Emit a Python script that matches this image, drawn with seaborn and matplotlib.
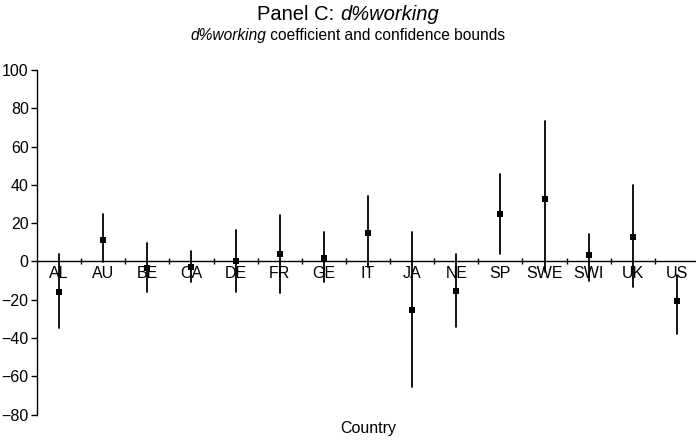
import numpy as np
import pandas as pd
import matplotlib
matplotlib.use("Agg")
import matplotlib.pyplot as plt
import seaborn as sns

countries = ["AL", "AU", "BE", "CA", "DE", "FR", "GE", "IT", "JA", "NE",
             "SP", "SWE", "SWI", "UK", "US"]
coef = [-15.9, 11.4, -3.3, -2.8, 0.4, 4.0, 1.9, 15.0, -25.3, -15.4,
        25.0, 32.8, 3.5, 12.9, -20.6]
lower = [-35.0, -0.5, -16.0, -10.8, -16.0, -16.6, -10.8, -3.0, -65.4, -34.4,
         4.0, -5.6, -10.0, -13.4, -37.9]
upper = [3.7, 24.6, 9.6, 5.2, 16.2, 24.1, 15.4, 34.2, 15.4, 3.7,
         45.9, 73.5, 14.5, 39.8, -7.0]
y_ticks = [-80, -60, -40, -20, 0, 20, 40, 60, 80, 100]

sns.set_theme(style="white")
plt.rcParams['font.family'] = ['Liberation Sans', 'DejaVu Sans']

long = pd.concat([
    pd.DataFrame({"Country": countries, "value": lower}),
    pd.DataFrame({"Country": countries, "value": coef}),
    pd.DataFrame({"Country": countries, "value": upper}),
], ignore_index=True)

W, H = 696, 440
fig = plt.figure(figsize=(W / 100, H / 100), dpi=100)
ax = fig.add_axes([37 / W, 1 - 414.5 / H, (699 - 37) / W, (414.5 - 70) / H])

sns.pointplot(data=long, x="Country", y="value", order=countries,
              estimator="median", errorbar=("pi", 100), color="black",
              marker="s", markersize=5.0, markeredgewidth=0, linestyle="none",
              err_kws={"linewidth": 1.3, "color": "black"}, ax=ax)

ax.set_xlim(-0.5, 14.5)
ax.set_ylim(-80, 100)
ax.set_yticks(y_ticks)
ax.set_xlabel("")
ax.set_ylabel("")
ax.grid(False)

for s in ["top", "right"]:
    ax.spines[s].set_visible(False)
ax.spines["bottom"].set_position(("data", 0))
for s in ["bottom", "left"]:
    ax.spines[s].set_color("black")
    ax.spines[s].set_linewidth(1.0)
    ax.spines[s].set_zorder(0.5)

ax.set_xticks(range(len(countries)))
ax.set_xticklabels(countries)
ax.set_xticks(np.arange(0.5, len(countries) - 1, 1.0), minor=True)
ax.tick_params(axis="x", which="major", length=0, pad=3, labelsize=11.5,
               colors="black")
ax.tick_params(axis="x", which="minor", direction="inout", length=5,
               width=1, color="black", bottom=True)
ax.tick_params(axis="y", direction="out", length=4, width=1, pad=2,
               labelsize=11.5, colors="black", left=True)


def mixed_line(parts, y_px, size, cx=0.5):
    """parts: list of (text, style). Centered at figure x fraction cx."""
    renderer = fig.canvas.get_renderer()
    texts = []
    for txt, style in parts:
        t = fig.text(0, 1 - y_px / H, txt, fontsize=size, style=style,
                     va="baseline", ha="left", color="black")
        texts.append(t)
    widths = [t.get_window_extent(renderer).width for t in texts]
    # account for trailing/leading spaces handled inside strings
    total = sum(widths)
    x = cx * W - total / 2
    for t, w in zip(texts, widths):
        t.set_x(x / W)
        x += w


mixed_line([("Panel C: ", "normal"), ("d%working", "italic")], 20, 14.5)
mixed_line([("d%working", "italic"), (" coefficient and confidence bounds", "normal")], 40, 11.2)
fig.text(368 / W, 1 - 433 / H, "Country", ha="center", va="baseline",
         fontsize=11.5, color="black")

fig.savefig("out.png", dpi=100)
